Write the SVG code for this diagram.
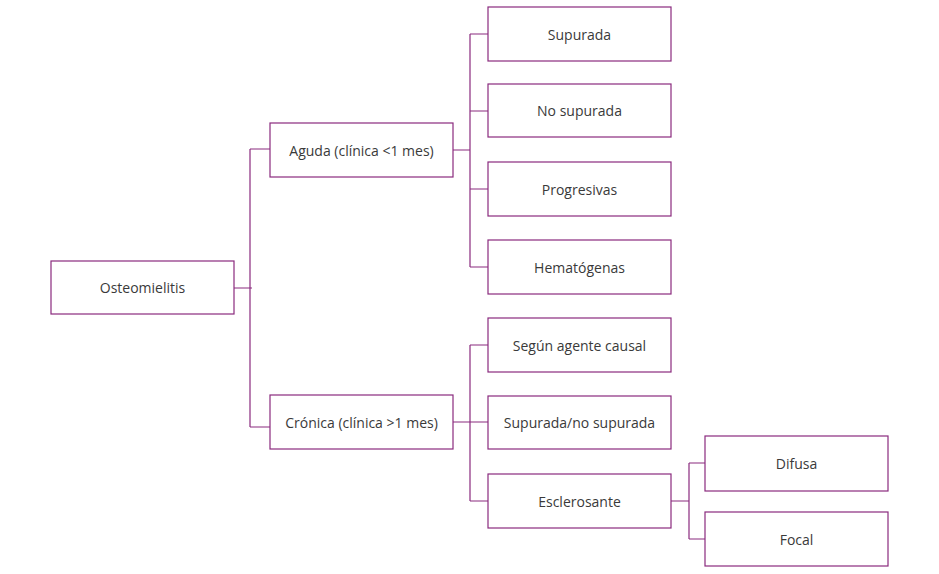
<svg xmlns="http://www.w3.org/2000/svg" width="939" height="574" viewBox="0 0 939 574">
<style>
rect{fill:#fff;stroke:#8a2a7e;stroke-width:1.2}
text{font-family:"Open Sans","Liberation Sans",sans-serif;font-size:14px;fill:#3a3a3a;text-anchor:middle;dominant-baseline:central}
#conn path{fill:none;stroke:#8a2a7e;stroke-width:1.2}
</style>
<rect x="0" y="0" width="939" height="574" style="stroke:none"/>
<g id="conn">
<path d="M234 288H252M250 149V427M250 149H270M250 427H270"/>
<path d="M453 150H470M470 34V267M470 34H488M470 111H488M470 189H488M470 267H488"/>
<path d="M453 422H470M470 345V501M470 345H488M470 422H488M470 501H488"/>
<path d="M671 501H689M689 463V539M689 463H705M689 539H705"/>
</g>
<g id="n0"><rect x="51" y="261" width="183" height="53"/><text x="142.5" y="287.5">Osteomielitis</text></g>
<g id="n1"><rect x="270" y="123" width="183" height="54"/><text x="361.5" y="150">Aguda (clínica &lt;1 mes)</text></g>
<g id="n2"><rect x="270" y="395" width="183" height="54"/><text x="361.5" y="422">Crónica (clínica &gt;1 mes)</text></g>
<g id="n3"><rect x="488" y="7" width="183" height="54"/><text x="579.5" y="34">Supurada</text></g>
<g id="n4"><rect x="488" y="84" width="183" height="53"/><text x="579.5" y="110.5">No supurada</text></g>
<g id="n5"><rect x="488" y="162" width="183" height="54"/><text x="579.5" y="189">Progresivas</text></g>
<g id="n6"><rect x="488" y="240" width="183" height="54"/><text x="579.5" y="267">Hematógenas</text></g>
<g id="n7"><rect x="488" y="318" width="183" height="54"/><text x="579.5" y="345">Según agente causal</text></g>
<g id="n8"><rect x="488" y="396" width="183" height="53"/><text x="579.5" y="422.5">Supurada/no supurada</text></g>
<g id="n9"><rect x="488" y="474" width="183" height="54"/><text x="579.5" y="501">Esclerosante</text></g>
<g id="n10"><rect x="705" y="436" width="183" height="55"/><text x="796.5" y="463.5">Difusa</text></g>
<g id="n11"><rect x="705" y="512" width="183" height="54"/><text x="796.5" y="539">Focal</text></g>
</svg>
